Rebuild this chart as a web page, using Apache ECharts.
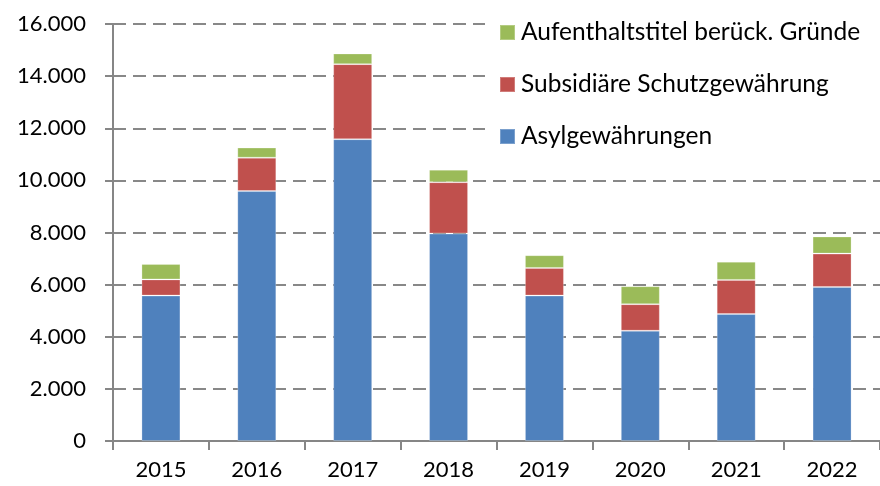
<!DOCTYPE html>
<html>
<head>
<meta charset="utf-8">
<script src="https://cdn.jsdelivr.net/npm/echarts@6/dist/echarts.min.js"></script>
<style>
  html, body { margin: 0; padding: 0; background: #fff; }
  #main { width: 880px; height: 486px; }
</style>
</head>
<body>
<div id="main"></div>
<script>
// Jahre
var years = ['2015', '2016', '2017', '2018', '2019', '2020', '2021', '2022'];
// Werte pro Kategorie (gestapelt)
var asyl = [5580, 9590, 11580, 7960, 5580, 4230, 4870, 5910];
var subsidiaer = [620, 1280, 2880, 1970, 1060, 1020, 1310, 1280];
var aufenthalt = [590, 390, 410, 480, 490, 690, 700, 660];
var seriesNames = ['Asylgewährungen', 'Subsidiäre Schutzgewährung', 'Aufenthaltstitel berück. Gründe'];
var colors = ['#4F81BD', '#C0504D', '#9BBB59'];

var font = 'Lato, "Open Sans", sans-serif';
var chart = echarts.init(document.getElementById('main'), null, { renderer: 'canvas' });

function fmt(v) {
  return String(v).replace(/\B(?=(\d{3})+(?!\d))/g, '.');
}

var option = {
  animation: false,
  textStyle: { fontFamily: font },
  grid: { left: 113, right: -9, top: 24, bottom: 45 },
  legend: {
    orient: 'vertical',
    left: 485,
    top: 10,
    padding: [10, 20, 10, 14],
    backgroundColor: '#fff',
    icon: 'rect',
    itemWidth: 15,
    itemHeight: 15,
    itemGap: 27,
    textStyle: { fontSize: 24.5, lineHeight: 24, color: '#000', fontFamily: font, padding: [0, 0, 0, 1] },
    data: [seriesNames[2], seriesNames[1], seriesNames[0]]
  },
  xAxis: {
    type: 'category',
    data: years,
    axisLine: { lineStyle: { color: '#868686', width: 2 } },
    axisTick: { show: true, length: 9, lineStyle: { color: '#868686', width: 2 } },
    axisLabel: { fontSize: 22, color: '#000', margin: 18 }
  },
  yAxis: {
    type: 'value',
    min: 0,
    max: 16000,
    interval: 2000,
    axisLine: { show: true, lineStyle: { color: '#868686', width: 2 } },
    axisTick: { show: true, length: 8, lineStyle: { color: '#868686', width: 2 } },
    axisLabel: { fontSize: 22, color: '#000', margin: 27, formatter: fmt },
    splitLine: { lineStyle: { color: '#888888', width: 2, type: [13, 7] } }
  },
  series: [
    { name: seriesNames[0], data: asyl },
    { name: seriesNames[1], data: subsidiaer },
    { name: seriesNames[2], data: aufenthalt }
  ].map(function (s, i) {
    return {
      name: s.name,
      type: 'bar',
      stack: 'total',
      barWidth: 39,
      data: s.data,
      itemStyle: { color: colors[i], borderColor: 'rgba(255,255,255,0.25)', borderWidth: 1 }
    };
  })
};
chart.setOption(option);
</script>
</body>
</html>
